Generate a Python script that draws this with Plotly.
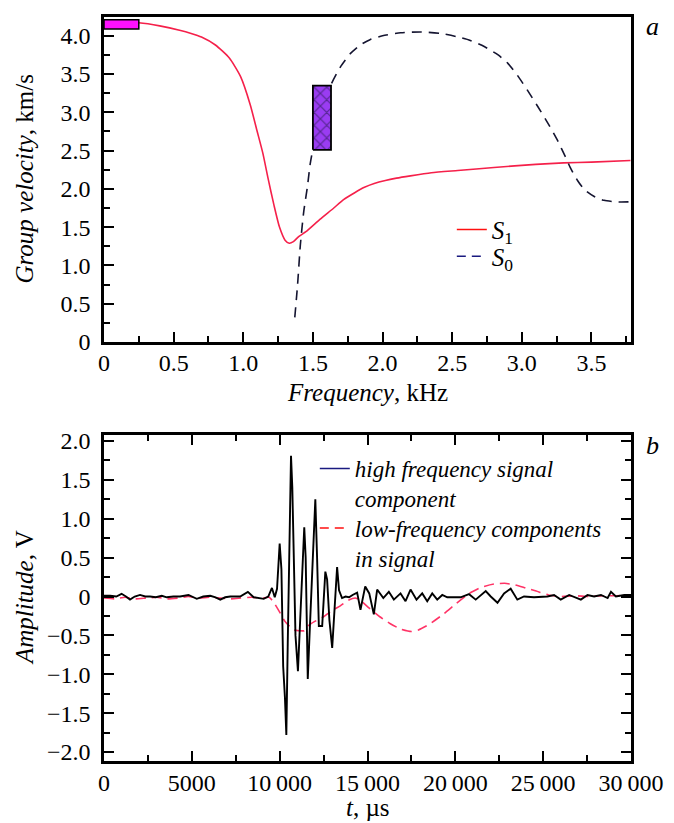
import plotly.graph_objects as go

# ---- Panel a: dispersion curves (group velocity vs frequency) ----
s1_freq = [0.0, 0.25, 0.4, 0.55, 0.62, 0.7, 0.8, 0.9, 0.98, 1.05, 1.1, 1.14, 1.18, 1.22, 1.26,
           1.3, 1.33, 1.36, 1.4, 1.45, 1.55, 1.65, 1.72, 1.8, 1.87, 1.94, 2.02, 2.1, 2.2,
           2.35, 2.54, 2.8, 3.1, 3.3, 3.5, 3.78]
s1_vel = [4.18, 4.17, 4.13, 4.07, 4.035, 3.985, 3.88, 3.71, 3.47, 3.1, 2.75, 2.47, 2.12, 1.79, 1.5,
          1.33, 1.29, 1.31, 1.38, 1.44, 1.6, 1.75, 1.86, 1.95, 2.02, 2.07, 2.11, 2.14, 2.17,
          2.21, 2.24, 2.28, 2.32, 2.34, 2.35, 2.37]

s0_freq = [1.37, 1.39, 1.41, 1.434, 1.46, 1.48, 1.5, 1.56, 1.63, 1.7, 1.77, 1.84, 1.91, 2.0,
           2.13, 2.28, 2.42, 2.53, 2.63, 2.73, 2.83, 2.9, 2.97, 3.04, 3.11, 3.19, 3.26, 3.31,
           3.35, 3.4, 3.45, 3.52, 3.59, 3.68, 3.78]
s0_vel = [0.32, 0.75, 1.27, 1.7, 2.02, 2.32, 2.52, 2.95, 3.36, 3.6, 3.77, 3.88, 3.95, 4.0,
          4.04, 4.05, 4.03, 3.99, 3.94, 3.86, 3.75, 3.64, 3.48, 3.29, 3.09, 2.85, 2.62, 2.43,
          2.27, 2.11, 1.99, 1.9, 1.85, 1.83, 1.83]

# highlighted frequency / velocity windows
low_band_freq = [0.0, 0.25]
low_band_vel = [4.09, 4.21]
mid_band_freq = [1.5, 1.63]
mid_band_vel = [2.51, 3.35]

# ---- Panel b: recorded signal components ----
hf_time = [0, 350, 700, 1000, 1250, 1480, 1750, 2050, 2350, 2620, 2950, 3290, 3570, 3950,
           4330, 4810, 5280, 5650, 6050, 6350, 6620, 6900, 7190, 7750, 8190, 8520, 9090,
           9350, 9560, 9720, 9850, 10000, 10100, 10200, 10300, 10380, 10460, 10550, 10646,
           10720, 10800, 10900, 11040, 11150, 11280, 11400, 11480, 11600, 11700, 11850,
           12030, 12130, 12230, 12420, 12520, 12600, 12700, 12830, 12990, 13100, 13200,
           13270, 13380, 13550, 13750, 13950, 14150, 14410, 14600, 14870, 15100, 15360,
           15550, 15900, 16215, 16500, 16880, 17165, 17450, 17790, 18115, 18400, 18685,
           18970, 19255, 19540, 20300, 20780, 21160, 21730, 22015, 22400, 22775, 23150,
           23530, 23910, 24480, 25240, 25620, 26000, 26480, 26765, 27145, 27525, 27900,
           28290, 28670, 28860, 29140, 29620, 30000]
hf_amp = [0.01, 0.01, 0.0, 0.035, 0.0, -0.04, 0.0, 0.02, 0.0, 0.0, -0.01, 0.01, -0.01, 0.0,
          0.0, 0.02, -0.03, 0.0, 0.01, -0.01, -0.04, -0.01, 0.0, 0.0, 0.06, -0.01, -0.03,
          0.0, 0.11, -0.01, 0.1, 0.68, 0.35, -0.9, -1.3, -1.78, -0.6, 0.5, 1.81,
          1.4, 0.5, -0.5, -0.96, -0.4, 0.3, 0.89, 0.5, -1.06, -0.5, 0.4,
          1.25, 0.5, -0.38, -0.38, 0.05, 0.32, 0.22, -0.3, -0.66, -0.2, 0.2,
          0.38, 0.08, -0.02, 0.0, -0.01, 0.02, 0.05, -0.17, 0.13, 0.04, -0.23,
          0.09, -0.02, 0.06, -0.04, 0.04, -0.06, 0.09, -0.04, 0.04, -0.06, 0.04,
          -0.04, 0.02, -0.01, -0.01, 0.03, -0.04, 0.07, 0.0, -0.08, 0.04, 0.1,
          -0.04, 0.0, -0.01, 0.0, 0.02, -0.04, 0.02, -0.01, -0.04, 0.02, 0.0,
          0.02, -0.02, 0.06, 0.0, 0.02, 0.02]

lf_time = [0, 600, 1200, 1800, 2400, 3000, 3600, 4200, 4800, 5400, 6000, 6600, 7200, 7800,
           8400, 9000, 9400, 9650, 10000, 10300, 10550, 10800, 11100, 11400, 11650, 12000,
           12500, 13000, 13450, 13900, 14300, 14600, 15100, 15700, 16300, 16900, 17500,
           17900, 18500, 19300, 20000, 20800, 21500, 22200, 22800, 23400, 24000, 24600,
           25300, 26000, 26800, 27600, 28400, 29200, 30000]
lf_amp = [-0.02, -0.03, -0.01, -0.03, -0.02, -0.01, -0.03, -0.02, 0.0, -0.02, -0.01, -0.02,
          -0.03, -0.02, -0.01, -0.02, -0.01, -0.07, -0.2, -0.32, -0.38, -0.43, -0.44, -0.44,
          -0.37, -0.32, -0.26, -0.18, -0.12, -0.05, -0.02, -0.05, -0.15, -0.26, -0.35,
          -0.42, -0.45, -0.43, -0.36, -0.23, -0.1, 0.04, 0.12, 0.16, 0.17, 0.15, 0.11,
          0.07, 0.02, 0.0, 0.01, 0.0, 0.01, 0.01, 0.02]

legend_a_names = ["<i>S</i><sub>1</sub>", "<i>S</i><sub>0</sub>"]
legend_b_names = ["<i>high frequency signal</i><br><i>component</i>",
                  "<i>low-frequency components</i><br><i>in signal</i>"]

FONT = "Liberation Serif, Times New Roman, Times, DejaVu Serif, serif"
FS = 25      # titles / legends
FS_TICK = 24


def box_outline(xs, ys):
    """Closed outline of a rectangular window given its two x and two y edges."""
    return ([xs[0], xs[1], xs[1], xs[0], xs[0]], [ys[0], ys[0], ys[1], ys[1], ys[0]])


fig = go.Figure()

# panel a curves
fig.add_trace(go.Scatter(x=s1_freq, y=s1_vel, mode="lines", line=dict(color="#f5204a", width=1.6, shape="spline", smoothing=0.6),
                         xaxis="x", yaxis="y", showlegend=False))
fig.add_trace(go.Scatter(x=s0_freq, y=s0_vel, mode="lines", line=dict(color="#141430", width=1.6, dash="10px,7px", shape="spline", smoothing=0.6),
                         xaxis="x", yaxis="y", showlegend=False))

# highlighted windows, drawn over the curves
bx, by = box_outline(low_band_freq, low_band_vel)
fig.add_trace(go.Scatter(x=bx, y=by, mode="lines", fill="toself", fillcolor="#ff10ff",
                         line=dict(color="black", width=1.5), xaxis="x", yaxis="y",
                         showlegend=False, hoverinfo="skip"))
bx, by = box_outline(mid_band_freq, mid_band_vel)
fig.add_trace(go.Scatter(x=bx, y=by, mode="lines", fill="toself", fillcolor="#9a3cf2",
                         fillpattern=dict(shape="x", fgcolor="#101030", bgcolor="#9a3cf2", size=9, solidity=0.25),
                         line=dict(color="black", width=1.8), xaxis="x", yaxis="y",
                         showlegend=False, hoverinfo="skip"))

# legend entries for panel a (one legend box per entry)
fig.add_trace(go.Scatter(x=[None], y=[None], mode="lines", name=legend_a_names[0],
                         line=dict(color="#ff1010", width=1.6), xaxis="x", yaxis="y", legend="legend"))
fig.add_trace(go.Scatter(x=[None], y=[None], mode="lines", name=legend_a_names[1],
                         line=dict(color="#1a1a80", width=1.6, dash="9px,6px"), xaxis="x", yaxis="y", legend="legend3"))

# panel b curves
fig.add_trace(go.Scatter(x=lf_time, y=lf_amp, mode="lines", line=dict(color="#ff3366", width=1.6, dash="10px,6px", shape="spline", smoothing=0.5),
                         xaxis="x2", yaxis="y2", showlegend=False))
fig.add_trace(go.Scatter(x=hf_time, y=hf_amp, mode="lines", line=dict(color="black", width=1.9),
                         xaxis="x2", yaxis="y2", showlegend=False))
fig.add_trace(go.Scatter(x=[None], y=[None], mode="lines", name=legend_b_names[0],
                         line=dict(color="#1a1a80", width=1.6), xaxis="x2", yaxis="y2", legend="legend2"))
fig.add_trace(go.Scatter(x=[None], y=[None], mode="lines", name=legend_b_names[1],
                         line=dict(color="#ff1010", width=1.6, dash="9px,6px"), xaxis="x2", yaxis="y2", legend="legend4"))

axis_common = dict(showline=True, linecolor="black", linewidth=2.5, ticks="inside", ticklen=10,
                   tickwidth=1.5, tickcolor="black", showgrid=False, zeroline=False,
                   tickfont=dict(family=FONT, size=FS_TICK, color="black"))
minor_common = dict(ticks="inside", ticklen=6, tickwidth=1.5, tickcolor="black", showgrid=False)

title_font = dict(family=FONT, size=FS, color="black")
legend_common = dict(xanchor="left", yanchor="top", bgcolor="rgba(0,0,0,0)", itemwidth=30,
                     tracegroupgap=0)

fig.update_layout(
    width=674, height=823,
    margin=dict(l=104, r=43, t=10, b=62),
    paper_bgcolor="white", plot_bgcolor="white",
    font=dict(family=FONT, size=FS, color="black"),
    xaxis=dict(axis_common, domain=[0, 1], range=[0, 3.784], anchor="y", mirror=True,
               tickmode="linear", tick0=0, dtick=0.5, tickformat=".1f", labelalias={"0.0": "0"},
               minor=dict(minor_common, dtick=0.25), ticklabelstandoff=-2),
    yaxis=dict(axis_common, domain=[0.5633, 1.0], range=[0, 4.246], anchor="x", mirror=True,
               tickmode="linear", tick0=0, dtick=0.5, tickformat=".1f", labelalias={"0.0": "0"},
               minor=dict(minor_common, dtick=0.25), ticklabelstandoff=6),
    xaxis2=dict(axis_common, domain=[0, 1], range=[0, 30000], anchor="y2", mirror="ticks",
                tickmode="linear", tick0=0, dtick=5000, tickformat="d",
                labelalias={"10000": "10\u2009000", "15000": "15\u2009000", "20000": "20\u2009000",
                            "25000": "25\u2009000", "30000": "30\u2009000"},
                minor=dict(minor_common, dtick=2500), ticklabelstandoff=-2),
    yaxis2=dict(axis_common, domain=[0, 0.4381], range=[-2.115, 2.076], anchor="x2", mirror="ticks",
                tickmode="linear", tick0=0, dtick=0.5, tickformat=".1f", labelalias={"0.0": "0"},
                minor=dict(minor_common, dtick=0.25), ticklabelstandoff=6),
    legend=dict(legend_common, x=0.66, y=0.745, font=dict(family=FONT, size=FS)),
    legend3=dict(legend_common, x=0.66, y=0.709, font=dict(family=FONT, size=FS)),
    legend2=dict(legend_common, x=0.40, y=0.422, valign="top", font=dict(family=FONT, size=FS - 2)),
    legend4=dict(legend_common, x=0.40, y=0.342, valign="top", font=dict(family=FONT, size=FS - 2)),
    annotations=[
        # axis titles
        dict(text="<i>Group velocity</i>, km/s", x=-0.1518, y=0.7816, xref="paper", yref="paper",
             textangle=-90, showarrow=False, xanchor="center", yanchor="middle", font=title_font),
        dict(text="<i>Frequency</i>, kHz", x=0.5, y=0.4953, xref="paper", yref="paper",
             showarrow=False, xanchor="center", yanchor="middle", font=title_font),
        dict(text="<i>Amplitude</i>, V", x=-0.1518, y=0.219, xref="paper", yref="paper",
             textangle=-90, showarrow=False, xanchor="center", yanchor="middle", font=title_font),
        dict(text="<i>t</i>, µs", x=0.5, y=-0.0625, xref="paper", yref="paper",
             showarrow=False, xanchor="center", yanchor="middle", font=title_font),
        # panel letters
        dict(text="<i>a</i>", x=1.04, y=0.9867, xref="paper", yref="paper", showarrow=False,
             xanchor="center", yanchor="middle", font=dict(family=FONT, size=FS + 1)),
        dict(text="<i>b</i>", x=1.041, y=0.4234, xref="paper", yref="paper", showarrow=False,
             xanchor="center", yanchor="middle", font=dict(family=FONT, size=FS + 1)),
    ],
)

fig.write_html("out.html")
